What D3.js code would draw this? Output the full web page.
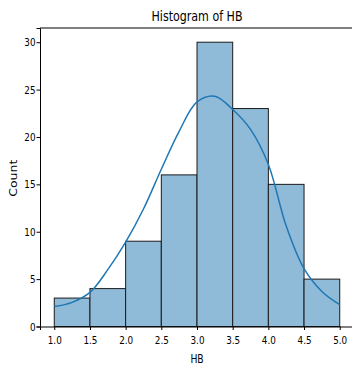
<!DOCTYPE html>
<meta charset="utf-8">
<style>
body { margin: 0; background: #fff; }
text { font-family: "DejaVu Sans", sans-serif; fill: #000; }
.axis path, .axis line { stroke: #000; }
</style>
<svg width="352" height="366"></svg>
<script src="https://d3js.org/d3.v7.min.js"></script>
<script>

// bins of HB and their counts
var binEdges = [1.0, 1.5, 2.0, 2.5, 3.0, 3.5, 4.0, 4.5, 5.0];
var counts = [3, 4, 9, 16, 30, 23, 15, 5];

// kde curve (HB, count)
var kdeX = [1.0, 1.25, 1.5, 1.75, 2.0, 2.25, 2.5, 2.75, 3.0, 3.25, 3.5, 3.75, 4.0, 4.25, 4.5, 4.75, 5.0];
var kdeY = [2.1, 2.55, 3.6, 6.0, 8.9, 12.4, 16.6, 20.6, 23.7, 24.3, 22.9, 20.8, 17.1, 10.6, 6.1, 3.7, 2.3];

var xTicks = [1.0, 1.5, 2.0, 2.5, 3.0, 3.5, 4.0, 4.5, 5.0];
var yTicks = [0, 5, 10, 15, 20, 25, 30];

var svg = d3.select("svg");
var mLeft = 40, mRight = 354, mTop = 28, mBottom = 326.5;
var sx = 0.8; // text in the picture is narrower than tall

var x = d3.scaleLinear().domain([0.8, 5.2]).range([mLeft, mRight]);
var y = d3.scaleLinear().domain([0, 31.5]).range([mBottom, mTop]);

var bins = counts.map(function(c, i) { return {x0: binEdges[i], x1: binEdges[i + 1], n: c}; });

svg.append("g")
  .selectAll("rect")
  .data(bins)
  .enter().append("rect")
    .attr("x", function(d) { return x(d.x0); })
    .attr("y", function(d) { return y(d.n); })
    .attr("width", function(d) { return x(d.x1) - x(d.x0); })
    .attr("height", function(d) { return y(0) - y(d.n); })
    .attr("fill", "#8fbbd9")
    .attr("stroke", "#1a1a1a")
    .attr("stroke-width", 1);

var kde = kdeX.map(function(v, i) { return [v, kdeY[i]]; });
var line = d3.line()
    .x(function(d) { return x(d[0]); })
    .y(function(d) { return y(d[1]); })
    .curve(d3.curveCatmullRom);

svg.append("path")
    .datum(kde)
    .attr("fill", "none")
    .attr("stroke", "#1f77b4")
    .attr("stroke-width", 1.5)
    .attr("d", line);

var xAxis = svg.append("g")
    .attr("class", "axis")
    .attr("transform", "translate(0," + mBottom + ")")
    .call(d3.axisBottom(x).tickValues(xTicks).tickFormat(d3.format(".1f")).tickSizeOuter(0).tickSize(3.5));

xAxis.selectAll("text")
    .attr("y", 9.5).attr("dy", "0.71em")
    .attr("transform", "scale(" + sx + ",1)");

var yAxis = svg.append("g")
    .attr("class", "axis")
    .attr("transform", "translate(" + mLeft + ",0)")
    .call(d3.axisLeft(y).tickValues(yTicks).tickSizeOuter(0).tickSize(3.5));

yAxis.selectAll("text")
    .attr("x", -5.6)
    .attr("transform", "scale(" + sx + ",1)");

svg.selectAll(".axis text").style("font-size", "11px").style("font-family", "DejaVu Sans");
svg.selectAll(".axis .domain").attr("stroke-width", 1);

// top spine
svg.append("line")
    .attr("x1", mLeft).attr("x2", mRight)
    .attr("y1", mTop).attr("y2", mTop)
    .attr("stroke", "#000").attr("stroke-width", 1);

svg.append("text")
    .attr("transform", "translate(" + ((mLeft + mRight) / 2) + ",21) scale(0.79,1)")
    .attr("text-anchor", "middle")
    .style("font-size", "14px")
    .text("Histogram of HB");

svg.append("text")
    .attr("transform", "translate(" + ((mLeft + mRight) / 2) + ",363) scale(" + sx + ",1)")
    .attr("text-anchor", "middle")
    .style("font-size", "11.5px")
    .text("HB");

svg.append("text")
    .attr("transform", "translate(16.5," + ((mTop + mBottom) / 2 + 1) + ") scale(" + sx + ",1) rotate(-90)")
    .attr("text-anchor", "middle")
    .style("font-size", "12.5px")
    .text("Count");

</script>
